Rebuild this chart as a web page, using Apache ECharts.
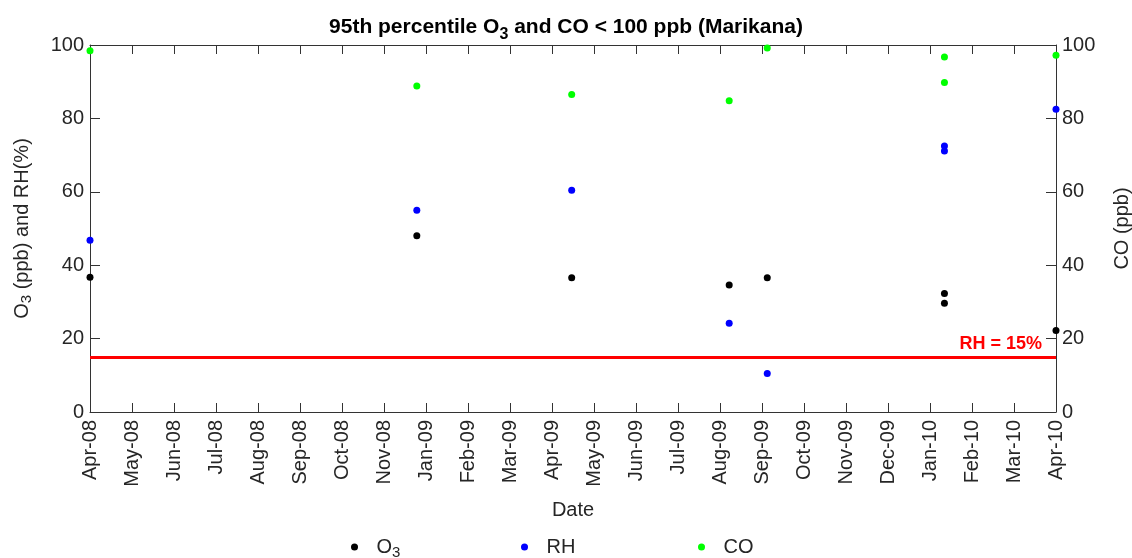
<!DOCTYPE html>
<html>
<head>
<meta charset="utf-8">
<script src="https://cdn.jsdelivr.net/npm/echarts@6/dist/echarts.min.js"></script>
<style>
  html, body { margin: 0; padding: 0; background: #fff; }
  #chart-container { width: 1132px; height: 558px; }
</style>
</head>
<body>
<div id="chart-container"></div>
<script>
// tick labels (MATLAB datetick: evenly spaced ticks every 32 days from 20-Apr-2008)
var tickStart = '2008-04-20';
var tickStep = 32;
var tickLabels = ['Apr-08', 'May-08', 'Jun-08', 'Jul-08', 'Aug-08', 'Sep-08', 'Oct-08', 'Nov-08',
  'Jan-09', 'Feb-09', 'Mar-09', 'Apr-09', 'May-09', 'Jun-09', 'Jul-09', 'Aug-09', 'Sep-09',
  'Oct-09', 'Nov-09', 'Dec-09', 'Jan-10', 'Feb-10', 'Mar-10', 'Apr-10'];

// sample dates and values
var dates = ['2008-04-20', '2008-12-25', '2009-04-22', '2009-08-20', '2009-09-18',
  '2010-01-31', '2010-01-31', '2010-04-26'];
var o3 = [36.7, 48.0, 36.6, 34.6, 36.6, 32.3, 29.6, 22.2];
var rh = [46.8, 55.0, 60.4, 24.2, 10.5, 72.5, 71.1, 82.5];
var co = [98.4, 88.8, 86.5, 84.8, 99.2, 96.7, 89.8, 97.2];
var rhLimit = 15;

var dayMs = 24 * 3600 * 1000;
function dayOf(d) {
  return Math.round((Date.parse(d) - Date.parse(tickStart)) / dayMs);
}
function pairs(vals) {
  return vals.map(function (v, i) { return [dayOf(dates[i]), v]; });
}

var font = 'Liberation Sans, Arial, Helvetica, sans-serif';
var txt = '#262626';
var axisCol = '#333333';
var xMax = tickStep * (tickLabels.length - 1);

var dom = document.getElementById('chart-container');
var myChart = echarts.init(dom, null, { renderer: 'canvas' });

var xCommon = {
  type: 'value',
  min: 0,
  max: xMax,
  interval: tickStep,
  splitLine: { show: false },
  axisLine: { show: true, onZero: false, lineStyle: { color: axisCol, width: 1 } },
  axisTick: { show: true, inside: true, length: 9, lineStyle: { color: axisCol } }
};
var yCommon = {
  type: 'value',
  min: 0,
  max: 100,
  interval: 20,
  splitLine: { show: false },
  axisLine: { show: true, onZero: false, lineStyle: { color: axisCol, width: 1 } },
  axisTick: { show: true, inside: true, length: 10, lineStyle: { color: axisCol } },
  axisLabel: { color: txt, fontSize: 20, fontFamily: font, margin: 6 },
  nameLocation: 'middle',
  nameRotate: 90,
  nameTextStyle: {
    color: txt, fontSize: 20, fontFamily: font,
    rich: {
      n: { fontSize: 20, fontFamily: font, color: txt },
      s: { fontSize: 15, fontFamily: font, color: txt, padding: [9, 0, 0, 0] }
    }
  }
};

function legendFor(name, left) {
  return {
    data: [name],
    left: left,
    top: 532,
    itemWidth: 34,
    itemHeight: 7,
    icon: 'circle',
    selectedMode: false,
    formatter: function (n) { return n === 'O3' ? '{n|O}{s|3}' : n; },
    textStyle: {
      color: txt, fontSize: 20, fontFamily: font,
      rich: {
        n: { fontSize: 20, fontFamily: font, color: txt },
        s: { fontSize: 15, fontFamily: font, color: txt, padding: [12, 0, 0, 0] }
      }
    }
  };
}

var option = {
  backgroundColor: '#fff',
  animation: false,
  title: {
    text: '{b|95th percentile O}{s|3}{b| and CO < 100 ppb (Marikana)}',
    left: 'center',
    top: 6,
    textStyle: {
      rich: {
        b: { fontSize: 21, fontWeight: 'bold', fontFamily: font, color: '#000' },
        s: { fontSize: 16, fontWeight: 'bold', fontFamily: font, color: '#000', padding: [16, 0, 0, 0] }
      }
    }
  },
  legend: [legendFor('O3', 346), legendFor('RH', 516), legendFor('CO', 693)],
  grid: { left: 90, right: 76, top: 45, bottom: 146, containLabel: false, outerBoundsMode: 'none' },
  xAxis: [
    Object.assign({}, xCommon, {
      position: 'bottom',
      name: 'Date',
      nameLocation: 'middle',
      nameGap: 88,
      nameTextStyle: { color: txt, fontSize: 20, fontFamily: font },
      axisLabel: {
        color: txt, fontSize: 20, fontFamily: font, rotate: 90, margin: 8,
        showMinLabel: true, showMaxLabel: true,
        formatter: function (v) { return tickLabels[Math.round(v / tickStep)]; }
      }
    }),
    Object.assign({}, xCommon, { position: 'top', axisLabel: { show: false } })
  ],
  yAxis: [
    Object.assign({}, yCommon, {
      position: 'left',
      name: '{n|O}{s|3}{n| (ppb) and RH(%)}',
      nameGap: 56
    }),
    Object.assign({}, yCommon, {
      position: 'right',
      name: 'CO (ppb)',
      nameGap: 56
    })
  ],
  series: [
    {
      name: 'O3',
      type: 'scatter',
      symbolSize: 7,
      itemStyle: { color: '#000000', opacity: 1 },
      data: pairs(o3),
      markLine: {
        silent: true,
        symbol: 'none',
        lineStyle: { color: '#ff0000', width: 3, type: 'solid' },
        label: {
          show: true,
          position: 'insideEndTop',
          formatter: 'RH = 15%',
          color: '#ff0000',
          fontSize: 18,
          fontWeight: 'bold',
          fontFamily: font,
          distance: [14, 4]
        },
        data: [{ yAxis: rhLimit }]
      }
    },
    {
      name: 'RH',
      type: 'scatter',
      symbolSize: 7,
      itemStyle: { color: '#0000ff', opacity: 1 },
      data: pairs(rh)
    },
    {
      name: 'CO',
      type: 'scatter',
      yAxisIndex: 1,
      symbolSize: 7,
      itemStyle: { color: '#00ff00', opacity: 1 },
      data: pairs(co)
    }
  ]
};

myChart.setOption(option);
window.addEventListener('resize', myChart.resize);
</script>
</body>
</html>
